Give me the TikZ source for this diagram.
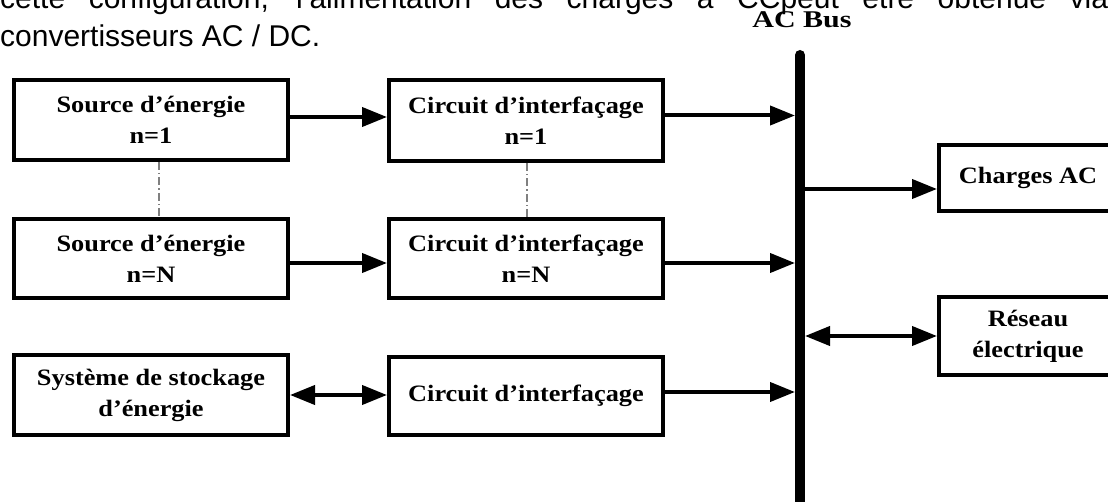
\documentclass[tikz,border=0pt]{standalone}
\usepackage{fontspec}
\setmainfont{Liberation Sans}
\newfontfamily\boxfont[FakeStretch=1.12]{Liberation Serif}
\newfontfamily\busfont[FakeStretch=1.25]{Liberation Serif}
\usetikzlibrary{arrows.meta}
\begin{document}
\begin{tikzpicture}[x=1pt,y=-1pt,
  box/.style={draw, line width=4pt, minimum width=274pt, minimum height=80pt, inner sep=0pt, align=center,
    font=\boxfont\bfseries\fontsize{23.5}{31}\selectfont},
  conn/.style={line width=4pt},
  >={Triangle[length=25pt,width=19pt]},
  dotline/.style={draw=gray, line width=1.5pt, dash pattern=on 8pt off 3pt on 1.5pt off 3pt},
  para/.style={anchor=base west, inner sep=0pt, font=\fontsize{30}{36}\selectfont}
]
\useasboundingbox (0,0) rectangle (1108,502);
\clip (0,0) rectangle (1108,502);

% paragraph text
\node[para] (line1) at (0,9) {\makebox[1108pt][s]{cette configuration, l'alimentation des charges à CCpeut être obtenue via}};
\node[para] (line2) at (0,47) {convertisseurs AC / DC.};

% boxes
\node[box] (src1) at (151,120) {Source d’énergie\\n=1};
\node[box, minimum height=79pt] (srcN) at (151,258.5) {Source d’énergie\\n=N};
\node[box] (sto) at (151,395) {Système de stockage\\d’énergie};
\node[box, minimum height=81pt] (cir1) at (526,120.5) {Circuit d’interfaçage\\n=1};
\node[box, minimum height=79pt] (cirN) at (526,258.5) {Circuit d’interfaçage\\n=N};
\node[box, minimum height=78pt] (cir3) at (526,396) {Circuit d’interfaçage};
\node[box, minimum width=178pt, minimum height=66pt] (chg) at (1028,178) {Charges AC};
\node[box, minimum width=178pt, minimum height=78pt] (res) at (1028,336) {Réseau\\électrique};

% bus
\coordinate (bustop) at (800,55);
\coordinate (busbot) at (800,530);
\coordinate (busL) at (795,0);
\coordinate (busR) at (805,0);
\draw[line width=10pt, line cap=round] (bustop) -- (busbot);
\node[inner sep=0pt, font=\busfont\bfseries\fontsize{24}{24}\selectfont] (busname) at (802,20) {AC Bus};

% dotted links
\draw[dotline] ([xshift=8pt]src1.south) -- ([xshift=8pt]srcN.north);
\draw[dotline] ([xshift=1pt]cir1.south) -- ([xshift=1pt]cirN.north);

% arrows
\draw[conn,->] ([yshift=3pt]src1.east) -- ([yshift=3pt]src1.east -| cir1.west);
\draw[conn,->] ([yshift=-4.5pt]srcN.east) -- ([yshift=-4.5pt]srcN.east -| cirN.west);
\draw[conn,<->] (sto.east) -- (sto.east -| cir3.west);
\draw[conn,->] ([yshift=5pt]cir1.east) -- ([yshift=5pt]cir1.east -| busL);
\draw[conn,->] ([yshift=-4.5pt]cirN.east) -- ([yshift=-4.5pt]cirN.east -| busL);
\draw[conn,->] ([yshift=4pt]cir3.east) -- ([yshift=4pt]cir3.east -| busL);
\draw[conn,->] ([yshift=-11pt]chg.west -| busR) -- ([yshift=-11pt]chg.west);
\draw[conn,<->] (res.west -| busR) -- (res.west);
\end{tikzpicture}
\end{document}
